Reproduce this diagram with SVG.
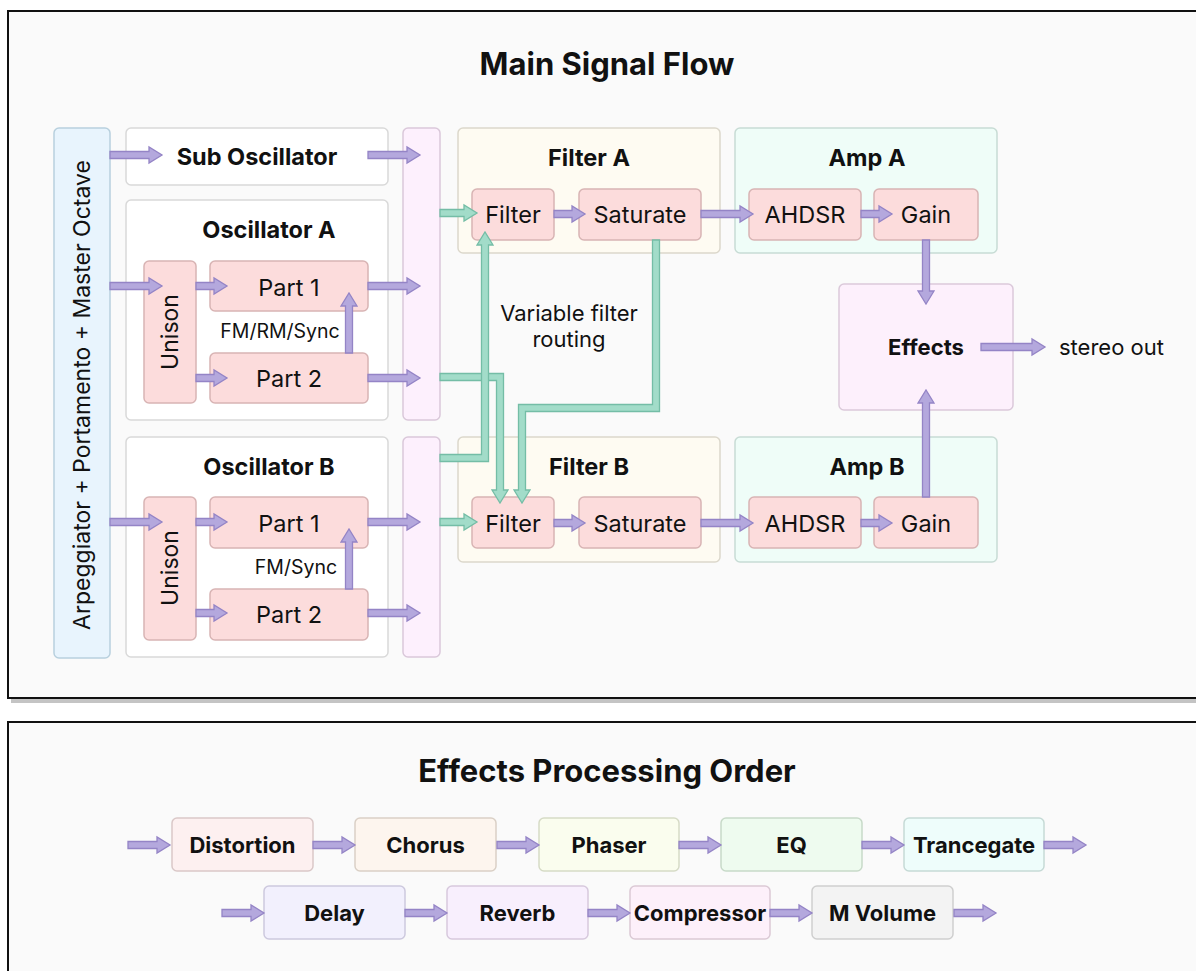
<svg xmlns="http://www.w3.org/2000/svg" xmlns:xlink="http://www.w3.org/1999/xlink" width="1196" height="971" viewBox="0 0 1196 971">
<style>
text{font-family:Inter,"Noto Sans","Liberation Sans",sans-serif;fill:#111;dominant-baseline:central;text-anchor:middle}
.t{font-size:31px;font-weight:700}
.h{font-size:23.5px;font-weight:700}
.n{font-size:23.5px}
.f{font-size:22px}
.s{font-size:19.5px}
.e{font-size:22px;font-weight:700}
.pk{fill:#fcdcdc;stroke:#d8b4b4;stroke-width:1.5}
.wb{fill:#ffffff;stroke:#d9d9d9;stroke-width:1.5}
.mx{fill:#fdf0fd;stroke:#dac8da;stroke-width:1.5}
.fg{fill:#fefbf2;stroke:#dcd8cc;stroke-width:1.5}
.ag{fill:#effdf8;stroke:#c8dcd5;stroke-width:1.5}
.pa{fill:#b4a8dd;stroke:#9484c6;stroke-width:1.3}
.ta{fill:#a2dcc9;stroke:#74bda6;stroke-width:1.3}
</style>
<defs>
<path id="a52" d="M0,-3.5H39V-8L52,0L39,8V3.5H0Z"/>
<path id="a31" d="M0,-3.5H18V-8L31,0L18,8V3.5H0Z"/>
<path id="a64" d="M0,-3.5H51V-8L64,0L51,8V3.5H0Z"/>
<path id="a60" d="M0,-3.5H47V-8L60,0L47,8V3.5H0Z"/>
<path id="a107" d="M0,-3.5H94V-8L107,0L94,8V3.5H0Z"/>
<path id="a42" d="M0,-3.5H29V-8L42,0L29,8V3.5H0Z"/>
<path id="a37" d="M0,-3.5H24V-8L37,0L24,8V3.5H0Z"/>
</defs>
<rect width="1196" height="971" fill="#ffffff"/>
<g id="frame-main">
<rect x="11" y="699" width="1190" height="4" fill="#c4c4c4"/>
<rect x="8" y="11" width="1200" height="687" fill="#fafafa" stroke="#111" stroke-width="2"/>
<text class="t" x="607" y="63">Main Signal Flow</text>
</g>
<g id="frame-effects">
<rect x="8" y="722" width="1200" height="300" fill="#fafafa" stroke="#111" stroke-width="2"/>
<text class="t" x="607" y="770">Effects Processing Order</text>
</g>
<g id="arp">
<rect x="54" y="128" width="56" height="530" rx="5" fill="#e8f4fd" stroke="#b8d0de" stroke-width="1.5"/>
<text transform="translate(82,395) rotate(-90)" style="font-size:23px">Arpeggiator + Portamento + Master Octave</text>
</g>
<g id="sub-osc">
<rect class="wb" x="126" y="128" width="262" height="57" rx="5"/>
<text class="h" x="257" y="156">Sub Oscillator</text>
</g>
<g id="osc-a">
<rect class="wb" x="126" y="200" width="262" height="220" rx="5"/>
<text class="h" x="269" y="229">Oscillator A</text>
</g>
<g id="unison-a">
<rect class="pk" x="144" y="261" width="52" height="142" rx="5"/>
<text transform="translate(170,332) rotate(-90)" style="font-size:23px">Unison</text>
</g>
<g id="part1-a">
<rect class="pk" x="210" y="261" width="158" height="50" rx="5"/>
<text class="n" x="289" y="287">Part 1</text>
</g>
<g id="part2-a">
<rect class="pk" x="210" y="353" width="158" height="50" rx="5"/>
<text class="n" x="289" y="378">Part 2</text>
</g>
<g id="osc-b">
<rect class="wb" x="126" y="437" width="262" height="220" rx="5"/>
<text class="h" x="269" y="466">Oscillator B</text>
</g>
<g id="unison-b">
<rect class="pk" x="144" y="497" width="52" height="143" rx="5"/>
<text transform="translate(170,568) rotate(-90)" style="font-size:23px">Unison</text>
</g>
<g id="part1-b">
<rect class="pk" x="210" y="497" width="158" height="51" rx="5"/>
<text class="n" x="289" y="523">Part 1</text>
</g>
<g id="part2-b">
<rect class="pk" x="210" y="589" width="158" height="51" rx="5"/>
<text class="n" x="289" y="614">Part 2</text>
</g>
<g id="mix-a"><rect class="mx" x="403" y="128" width="37" height="292" rx="5"/></g>
<g id="mix-b"><rect class="mx" x="403" y="437" width="37" height="220" rx="5"/></g>
<g id="filter-a">
<rect class="fg" x="458" y="128" width="262" height="125" rx="5"/>
<text class="h" x="589" y="157">Filter A</text>
</g>
<g id="filter-a-filter">
<rect class="pk" x="472" y="189" width="82" height="51" rx="5"/>
<text class="n" x="513" y="214">Filter</text>
</g>
<g id="filter-a-sat">
<rect class="pk" x="579" y="189" width="122" height="51" rx="5"/>
<text class="n" x="640" y="214">Saturate</text>
</g>
<g id="amp-a">
<rect class="ag" x="735" y="128" width="262" height="125" rx="5"/>
<text class="h" x="867" y="157">Amp A</text>
</g>
<g id="amp-a-ahdsr">
<rect class="pk" x="749" y="189" width="112" height="51" rx="5"/>
<text class="n" x="805" y="214">AHDSR</text>
</g>
<g id="amp-a-gain">
<rect class="pk" x="874" y="189" width="104" height="51" rx="5"/>
<text class="n" x="926" y="214">Gain</text>
</g>
<g id="filter-b">
<rect class="fg" x="458" y="437" width="262" height="125" rx="5"/>
<text class="h" x="589" y="466">Filter B</text>
</g>
<g id="filter-b-filter">
<rect class="pk" x="472" y="497" width="82" height="51" rx="5"/>
<text class="n" x="513" y="523">Filter</text>
</g>
<g id="filter-b-sat">
<rect class="pk" x="579" y="497" width="122" height="51" rx="5"/>
<text class="n" x="640" y="523">Saturate</text>
</g>
<g id="amp-b">
<rect class="ag" x="735" y="437" width="262" height="125" rx="5"/>
<text class="h" x="867" y="466">Amp B</text>
</g>
<g id="amp-b-ahdsr">
<rect class="pk" x="749" y="497" width="112" height="51" rx="5"/>
<text class="n" x="805" y="523">AHDSR</text>
</g>
<g id="amp-b-gain">
<rect class="pk" x="874" y="497" width="104" height="51" rx="5"/>
<text class="n" x="926" y="523">Gain</text>
</g>
<g id="effects">
<rect x="839" y="284" width="174" height="126" rx="5" fill="#fdf0fc" stroke="#dbc9da" stroke-width="1.5"/>
<text class="e" x="926" y="347">Effects</text>
</g>
<g id="stereo-out"><text class="f" x="1059" y="347" style="text-anchor:start">stereo out</text></g>
<g id="routing-label">
<text class="f" x="569" y="313">Variable filter</text>
<text class="f" x="569" y="339">routing</text>
</g>
<g id="fx-distortion"><rect x="172" y="818" width="141" height="53" rx="5" fill="#fdf0f0" stroke="#dac8c8" stroke-width="1.5"/><text class="e" x="242.5" y="845">Distortion</text></g>
<g id="fx-chorus"><rect x="355" y="818" width="141" height="53" rx="5" fill="#fdf5ee" stroke="#dad0c6" stroke-width="1.5"/><text class="e" x="425.5" y="845">Chorus</text></g>
<g id="fx-phaser"><rect x="539" y="818" width="140" height="53" rx="5" fill="#fafdee" stroke="#d6dbc6" stroke-width="1.5"/><text class="e" x="609" y="845">Phaser</text></g>
<g id="fx-eq"><rect x="721" y="818" width="141" height="53" rx="5" fill="#eefbef" stroke="#c8dac9" stroke-width="1.5"/><text class="e" x="791.5" y="845">EQ</text></g>
<g id="fx-trancegate"><rect x="904" y="818" width="140" height="53" rx="5" fill="#eefdfb" stroke="#c6dad6" stroke-width="1.5"/><text class="e" x="974" y="845">Trancegate</text></g>
<g id="fx-delay"><rect x="264" y="886" width="141" height="53" rx="5" fill="#f2f0fd" stroke="#cdc9de" stroke-width="1.5"/><text class="e" x="334.5" y="913">Delay</text></g>
<g id="fx-reverb"><rect x="447" y="886" width="141" height="53" rx="5" fill="#f8effd" stroke="#d7c9dd" stroke-width="1.5"/><text class="e" x="517.5" y="913">Reverb</text></g>
<g id="fx-compressor"><rect x="630" y="886" width="140" height="53" rx="5" fill="#fdf0fa" stroke="#dbc9d5" stroke-width="1.5"/><text class="e" x="700" y="913">Compressor</text></g>
<g id="fx-mvolume"><rect x="812" y="886" width="141" height="53" rx="5" fill="#f3f3f3" stroke="#cfcfcf" stroke-width="1.5"/><text class="e" x="882.5" y="913">M Volume</text></g>
<g id="fm-labels">
<text class="s" x="280" y="331">FM/RM/Sync</text>
<text class="s" x="296" y="567">FM/Sync</text>
</g>
<g id="connectors">
<g class="pa">
<use xlink:href="#a52" x="110" y="155"/>
<use xlink:href="#a52" x="368" y="155"/>
<use xlink:href="#a52" x="110" y="286"/>
<use xlink:href="#a31" x="196" y="286"/>
<use xlink:href="#a31" x="196" y="378"/>
<use xlink:href="#a52" x="368" y="286"/>
<use xlink:href="#a52" x="368" y="378"/>
<use xlink:href="#a52" x="110" y="522"/>
<use xlink:href="#a31" x="196" y="522"/>
<use xlink:href="#a31" x="196" y="613"/>
<use xlink:href="#a52" x="368" y="522"/>
<use xlink:href="#a52" x="368" y="613"/>
<use xlink:href="#a31" x="554" y="214"/>
<use xlink:href="#a52" x="701" y="214"/>
<use xlink:href="#a31" x="861" y="214"/>
<use xlink:href="#a31" x="554" y="523"/>
<use xlink:href="#a52" x="701" y="523"/>
<use xlink:href="#a31" x="861" y="523"/>
<use xlink:href="#a64" x="981" y="347"/>
<use xlink:href="#a60" transform="translate(349,353) rotate(-90)"/>
<use xlink:href="#a60" transform="translate(349,589) rotate(-90)"/>
<use xlink:href="#a64" transform="translate(926,240) rotate(90)"/>
<use xlink:href="#a107" transform="translate(926,497) rotate(-90)"/>
<use xlink:href="#a42" x="128" y="845"/>
<use xlink:href="#a42" x="313" y="845"/>
<use xlink:href="#a42" x="497" y="845"/>
<use xlink:href="#a42" x="679" y="845"/>
<use xlink:href="#a42" x="862" y="845"/>
<use xlink:href="#a42" x="1044" y="845"/>
<use xlink:href="#a42" x="222" y="913"/>
<use xlink:href="#a42" x="405" y="913"/>
<use xlink:href="#a42" x="588" y="913"/>
<use xlink:href="#a42" x="770" y="913"/>
<use xlink:href="#a42" x="954" y="913"/>
</g>
<g class="ta">
<use xlink:href="#a37" x="440" y="213"/>
<use xlink:href="#a37" x="440" y="522"/>
<path d="M440,373.5H503.5V490H508L500,503L492,490H496.5V380.5H440Z"/>
<path d="M440,454.5H481.5V245H477L485,232L493,245H488.5V461.5H440Z"/>
<path d="M652.5,240H659.5V411.5H525.5V490H530L522,503L514,490H518.5V404.5H652.5Z"/>
</g>
</g>
</svg>
